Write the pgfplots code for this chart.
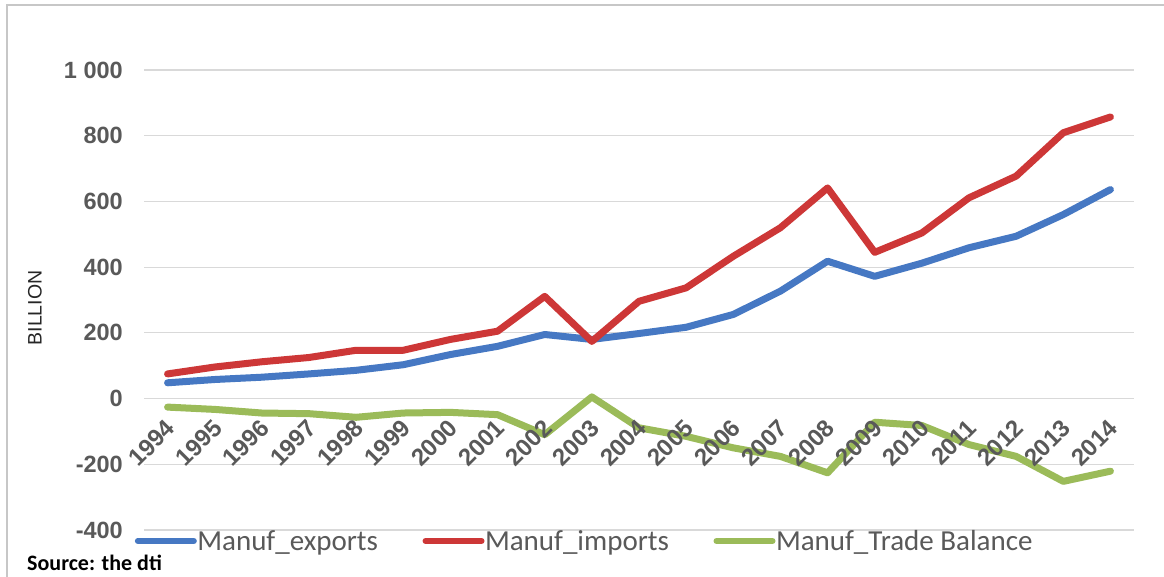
\documentclass[border=0pt]{standalone}
\usepackage{fontspec}
\usepackage{pgfplots}
\pgfplotsset{compat=1.18}
\newfontfamily\arialfont{Liberation Sans}
\newfontfamily\califont{Carlito}
\definecolor{cblue}{RGB}{70,120,195}
\definecolor{cred}{RGB}{205,55,55}
\definecolor{cgreen}{RGB}{155,187,89}
\definecolor{tgray}{RGB}{89,89,89}
\definecolor{ggray}{RGB}{217,217,217}
\begin{document}
\begin{tikzpicture}[x=1pt,y=1pt]
\useasboundingbox (0,0) rectangle (1164,577);
\fill[white] (0,0) rectangle (1164,577);
\draw[line width=1.5pt, black!22] (7,-20) -- (7,572) -- (1190,572);
\begin{axis}[
  at={(144pt,47pt)}, anchor=south west,
  width=990pt, height=460pt, scale only axis,
  xmin=1993.5, xmax=2014.5,
  ymin=-400, ymax=1000,
  axis line style={draw=none},
  major tick length=0pt,
  xtick={1994,...,2014}, xticklabels={},
  ytick={-400,-200,0,200,400,600,800,1000},
  yticklabels={-400,-200,0,200,400,600,800,1 000},
  yticklabel style={font=\fontsize{23.5}{27}\selectfont\arialfont\bfseries, text=tgray, inner sep=0pt, xshift=-21pt},
  ymajorgrids, grid style={ggray, line width=1.2pt},
  clip=false,
  legend columns=3,
  legend style={draw=none, fill=none, at={(0.4444,-0.0239)}, anchor=center,
    font=\fontsize{29}{33}\selectfont\califont, text=tgray,
    /tikz/every even column/.append style={column sep=44pt},
    nodes={inner sep=0.5pt}},
  legend image code/.code={\draw[#1, line width=6pt, line cap=round] (0pt,0pt) -- (56pt,0pt);},
  every axis plot/.append style={line width=7pt, line join=round, line cap=round},
]
\addplot[cblue] coordinates {(1994,48)(1995,58)(1996,65)(1997,75)(1998,86)(1999,103)(2000,134)(2001,159)(2002,195)(2003,180)(2004,198)(2005,217)(2006,256)(2007,327)(2008,418)(2009,372)(2010,412)(2011,459)(2012,494)(2013,560)(2014,636)};
\addlegendentry{Manuf\_exports}
\addplot[cred] coordinates {(1994,75)(1995,96)(1996,112)(1997,125)(1998,147)(1999,147)(2000,180)(2001,205)(2002,311)(2003,174)(2004,296)(2005,337)(2006,433)(2007,520)(2008,641)(2009,445)(2010,504)(2011,611)(2012,677)(2013,809)(2014,857)};
\addlegendentry{Manuf\_imports}
\addplot[cgreen] coordinates {(1994,-26)(1995,-33)(1996,-44)(1997,-46)(1998,-57)(1999,-44)(2000,-42)(2001,-49)(2002,-110)(2003,5)(2004,-89)(2005,-115)(2006,-150)(2007,-176)(2008,-226)(2009,-72)(2010,-82)(2011,-140)(2012,-176)(2013,-252)(2014,-221)};
\addlegendentry{Manuf\_Trade Balance}
\pgfplotsinvokeforeach{1994,...,2014}{
  \node[anchor=north east, inner sep=0pt, xshift=-3pt, yshift=-19pt, rotate=45, font=\fontsize{24}{28}\selectfont\arialfont\bfseries, text=tgray] at (axis cs:#1,0) {#1};
}
\end{axis}
\node[rotate=90, font=\fontsize{19.5}{22}\selectfont\arialfont, text=black!85, inner sep=0pt] at (35,269) {BILLION};
\node[anchor=base west, font=\fontsize{22}{26}\selectfont\califont\bfseries, inner sep=0pt] at (27,6) {Source: the dti};
\end{tikzpicture}
\end{document}
